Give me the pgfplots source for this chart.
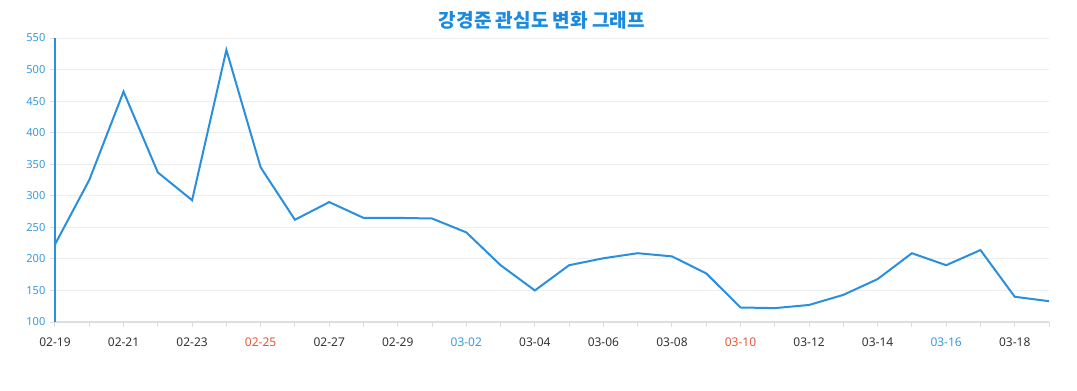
\documentclass[border=0pt]{standalone}
\usepackage{pgfplots}
\pgfplotsset{compat=1.18}
\usepackage{fontspec}
\setmainfont{Noto Sans}
\newfontfamily\cjk{Noto Sans CJK KR}
\definecolor{linec}{HTML}{2A8FDD}
\definecolor{ylab}{HTML}{3A9AD9}
\definecolor{titlec}{HTML}{1A8AE0}
\definecolor{redl}{HTML}{E0573A}
\definecolor{bluel}{HTML}{3A9AD9}
\definecolor{xlab}{HTML}{333333}
\definecolor{gridc}{HTML}{EEEEEE}
\definecolor{axc}{HTML}{DDDDDD}
\pgfplotstableread{
x y
0 223
1 325
2 465
3 337
4 293
5 531
6 345
7 262
8 290
9 265
10 265
11 264
12 242
13 190
14 150
15 190
16 201
17 209
18 204
19 177
20 123
21 122
22 127
23 143
24 168
25 209
26 190
27 214
28 140
29 133
}\datatable
\begin{document}
\begin{tikzpicture}
\useasboundingbox (-41.25pt,-51pt) rectangle (766.5pt,241.5pt);
\begin{axis}[
  at={(0,0)}, anchor=south west,
  scale only axis,
  width=745.5pt, height=213pt,
  xmin=0, xmax=29, ymin=100, ymax=550,
  xtick={0,...,29},
  xticklabels={02-19,,02-21,,02-23,,\textcolor{redl}{02-25},,02-27,,02-29,,\textcolor{bluel}{03-02},,03-04,,03-06,,03-08,,\textcolor{redl}{03-10},,03-12,,03-14,,\textcolor{bluel}{03-16},,03-18,},
  ytick={100,150,...,550},
  axis x line*=bottom, axis y line*=left,
  x axis line style={draw=axc, line width=1.5pt, -},
  y axis line style={draw=linec, line width=1.5pt, -},
  ymajorgrids, grid style={draw=gridc, line width=0.75pt},
  tick align=outside,
  major tick length=4pt,
  xtick style={draw=axc, line width=0.75pt},
  ytick style={draw=axc, line width=0.75pt},
  xticklabel style={font=\fontsize{9}{10}\selectfont, text=xlab, anchor=center, yshift=-11pt},
  yticklabel style={font=\fontsize{8.3}{10}\selectfont, text=ylab, anchor=east, inner sep=0pt, xshift=-3pt},
  /pgf/number format/assume math mode=true,
  title={\cjk\bfseries 강경준 관심도 변화 그래프},
  title style={font=\fontsize{14.3}{16}\selectfont, text=titlec, at={(0.5,1)}, anchor=center, yshift=7.5pt, xshift=-7.5pt},
  clip=false,
]
\addplot[color=linec, line width=1.5pt, mark=none] table[x=x,y=y] {\datatable};
\end{axis}
\end{tikzpicture}
\end{document}
